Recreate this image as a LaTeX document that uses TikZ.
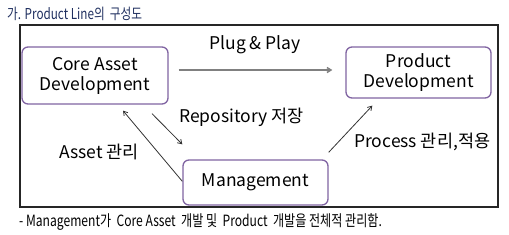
\documentclass[tikz,border=0pt]{standalone}
\usepackage{fontspec}
\setmainfont{Noto Sans CJK KR}
\newfontfamily\narrowfont[FakeStretch=0.78]{Noto Sans CJK KR}
\usepackage{xcolor}
\usetikzlibrary{arrows.meta, calc}
\definecolor{boxline}{HTML}{8064A2}
\definecolor{titleblue}{HTML}{1F2F5F}

\begin{document}
\begin{tikzpicture}[
  x=1pt, y=-1pt,
  every node/.style={font=\fontsize{17.5}{20}\selectfont, inner sep=0pt},
  blk/.style={draw=boxline, line width=1.3pt, rounded corners=6pt, fill=white, align=center},
  lbl/.style={anchor=west},
  >={Straight Barb[length=4pt,width=5pt]},
  arr/.style={->, line width=0.8pt, black!80}
]
\useasboundingbox (0,0) rectangle (509,234);
% title and frame
\node[lbl, font=\narrowfont\fontsize{15}{17}\selectfont, text=titleblue] (title) at (7,14) {가. Product Line의 \,구성도};
\draw[line width=1.6pt, black!85] (20,25) rectangle (498,207);
% boxes
\node[blk, minimum width=146pt, minimum height=57pt] (core) at (95,75.5) {Core Asset\\ Development};
\node[blk, minimum width=145pt, minimum height=51pt] (prod) at (418.5,72.5) {Product\\ Development};
\node[blk, minimum width=145pt, minimum height=45pt] (mgmt) at (255.5,182.5) {Management};
% connectors
\draw[->, line width=1.5pt, black!50] ($(core.east)+(10,-5.5)$) -- ($(prod.west)+(-13,-2.5)$);
\node (plug) at (255,45) {Plug \& Play};
\draw[arr] ($(core.south)+(57,9)$) -- ($(mgmt.north west)+(0,-15)$);
\node[lbl] (repo) at (179,117) {Repository 저장};
\draw[arr] ($(mgmt.north west)+(0,22)$) -- ($(core.south)+(28,6)$);
\node[lbl] (asset) at (59,152) {Asset 관리};
\draw[arr] ($(mgmt.north east)+(0,-7)$) -- ($(prod.south west)+(27,7)$);
\node[lbl] (proc) at (354,142) {Process 관리,적용};
% caption
\node[lbl, font=\narrowfont\fontsize{15.5}{17}\selectfont] (cap) at (19,222)
  {- Management가 \ Core Asset \ 개발 및 \ Product \ 개발을 전체적 관리함.};
\end{tikzpicture}
\end{document}
